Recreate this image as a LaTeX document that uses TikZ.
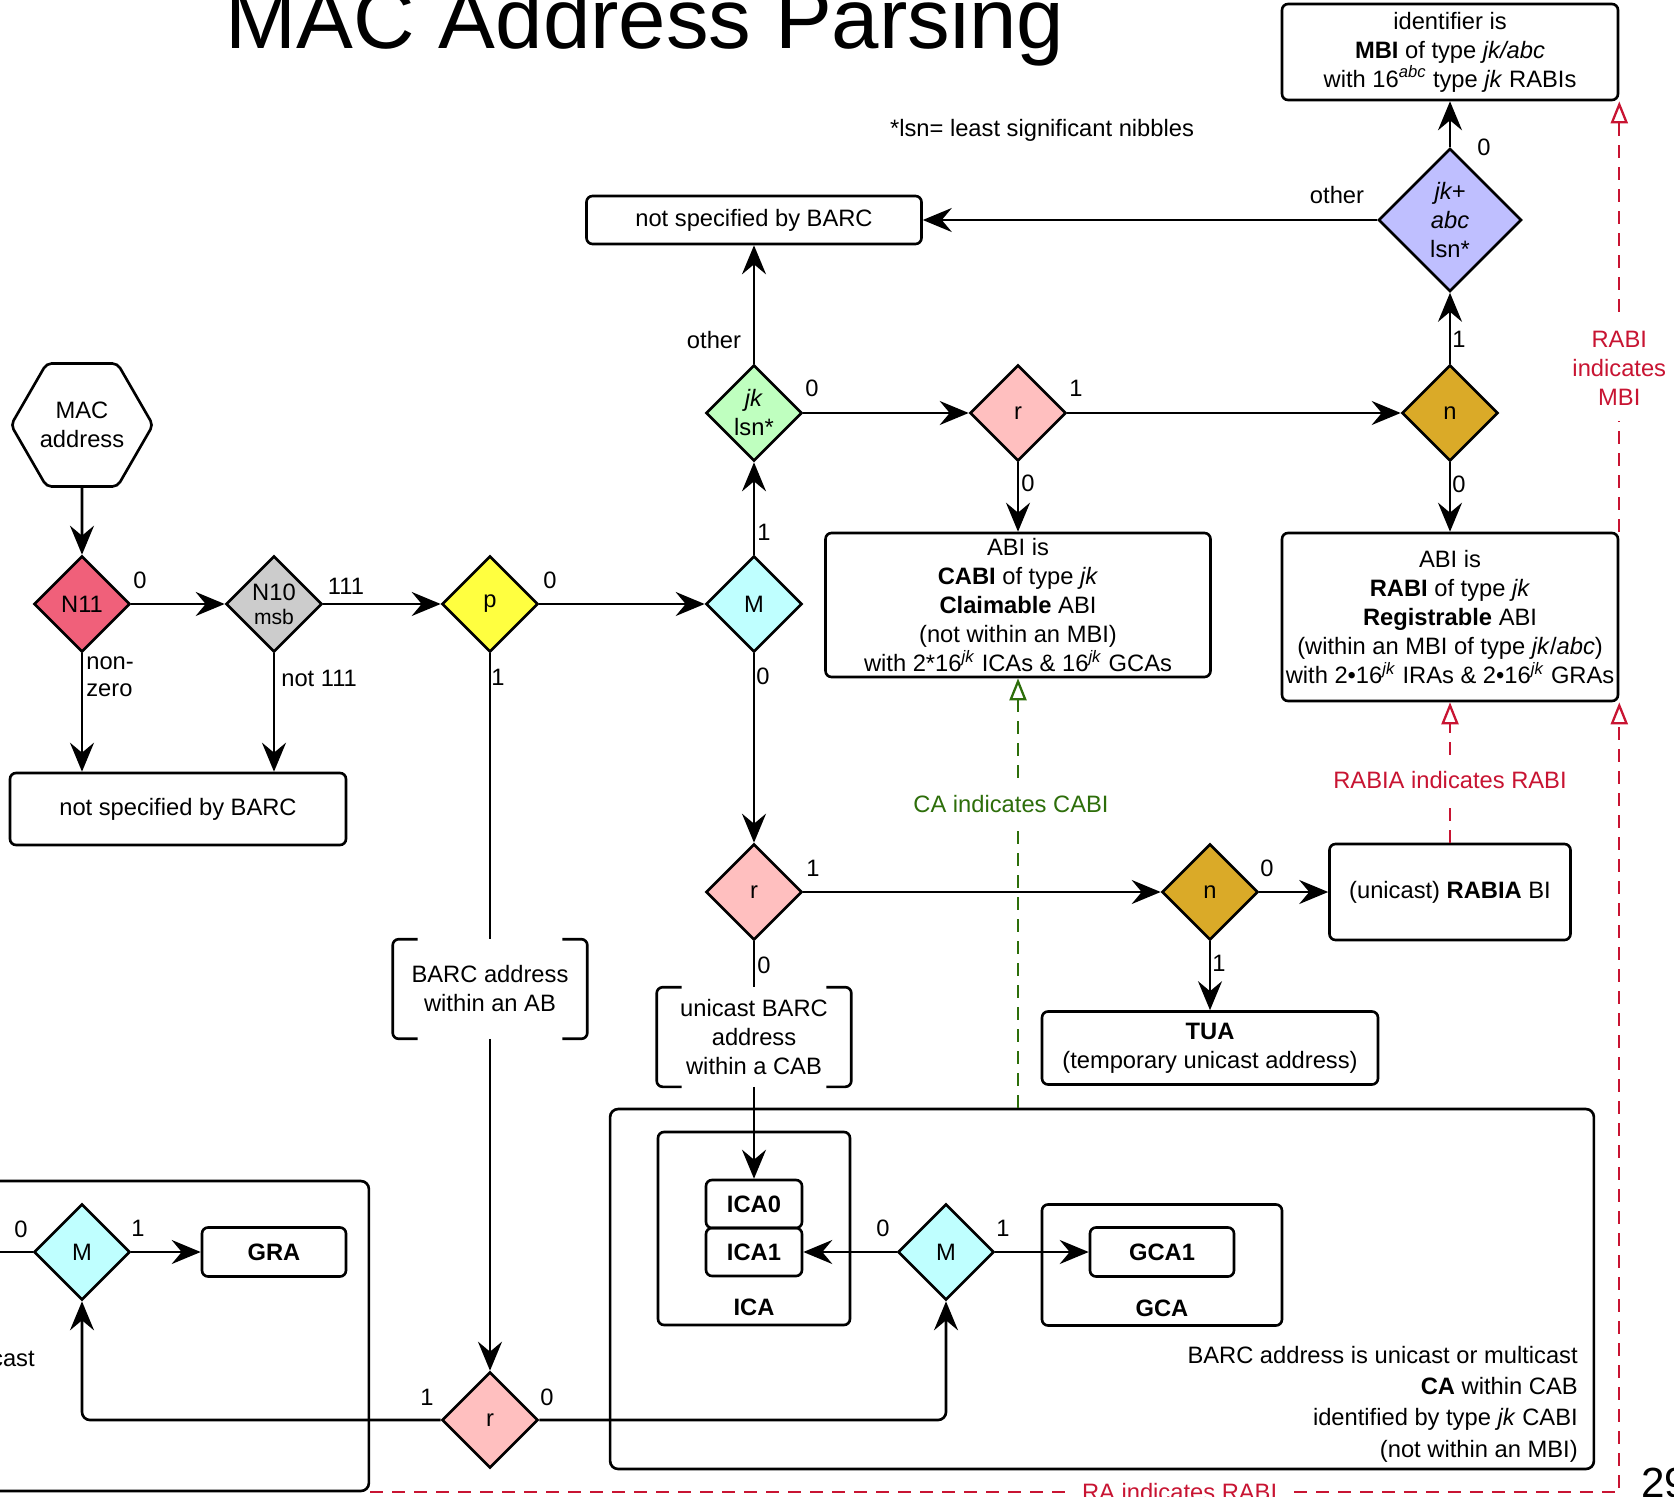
\documentclass[tikz,border=0pt]{standalone}
\usepackage{fontspec}
\setmainfont{Liberation Sans}
\usetikzlibrary{shapes.geometric,arrows.meta}

\definecolor{nelevfill}{HTML}{F0607A}
\definecolor{ntenfill}{HTML}{CCCCCC}
\definecolor{pfill}{HTML}{FFFF40}
\definecolor{mfill}{HTML}{BFFFFF}
\definecolor{jkfill}{HTML}{BFFFBF}
\definecolor{rfill}{HTML}{FFBFBF}
\definecolor{nfill}{HTML}{DAAA28}
\definecolor{abcfill}{HTML}{BFBFFF}
\definecolor{indred}{RGB}{200,20,50}
\definecolor{indgreen}{RGB}{45,110,10}

% brackets left and right of a node
\newcommand{\bracketsaround}[1]{%
  \draw[rounded corners=0.12cm] ([xshift=0.5cm]#1.north west) -- (#1.north west) -- (#1.south west) -- ([xshift=0.5cm]#1.south west);
  \draw[rounded corners=0.12cm] ([xshift=-0.5cm]#1.north east) -- (#1.north east) -- (#1.south east) -- ([xshift=-0.5cm]#1.south east);}

\begin{document}
\begin{tikzpicture}[x=0.02cm,y=-0.02cm,line width=1.5pt,font=\fontsize{13.5}{16.5}\selectfont]
\tikzstyle{dec}=[diamond, draw, inner sep=0pt, minimum width=1.92cm, minimum height=1.92cm, align=center]
\tikzstyle{box}=[rectangle, draw, rounded corners=0.12cm, inner sep=0pt, align=center]
\tikzstyle{hexa}=[regular polygon, regular polygon sides=6, draw, minimum size=2.84cm, inner sep=0pt, rounded corners=0.1cm, align=center]
\tikzstyle{lbl}=[inner sep=0pt]
\tikzstyle{arr}=[-{Stealth[length=0.58cm,width=0.48cm,inset=0.2cm]}]
\tikzstyle{ind}=[line width=1.3pt, dash pattern=on 0.26cm off 0.18cm, -{Triangle[open,length=0.44cm,width=0.34cm]}]
\tikzstyle{indtxt}=[fill=white, inner xsep=0.1cm, inner ysep=0.3cm, align=center]

\useasboundingbox (0,0) rectangle (1674,1497);
\clip (0,0) rectangle (1674,1497);

\node[lbl, anchor=base, font=\fontsize{48.5}{50}\selectfont] (title) at (645,49) {MAC Address Parsing};
\node[lbl] (lsnnote) at (1042,130) {*lsn= least significant nibbles};
\node[lbl, anchor=base west, font=\fontsize{24}{26}\selectfont] (pagenum) at (1640,1497) {29};

% containers
\node[box, rounded corners=0.16cm, minimum width=19.68cm, minimum height=6.2cm] (gracont) at (-123,1336) {};
\node[box, rounded corners=0.16cm, minimum width=19.68cm, minimum height=7.2cm] (cab) at (1102,1289) {};
\node[box, minimum width=3.84cm, minimum height=3.86cm] (ica) at (754,1228.5) {};
\node[box, minimum width=4.8cm, minimum height=2.42cm] (gca) at (1162,1265) {};

% decisions
\node[hexa] (mac) at (82,425) {MAC\\address};
\node[dec, fill=nelevfill] (nelev) at (82,604) {N11};
\node[dec, fill=ntenfill] (nten) at (274,604) {N10\\[-3pt]{\fontsize{12}{14}\selectfont msb}};
\node[dec, fill=pfill] (pbit) at (490,604) {p};
\node[dec, fill=mfill] (mtop) at (754,604) {M};
\node[dec, fill=jkfill] (jklsn) at (754,413) {\textit{jk}\\lsn*};
\node[dec, fill=rfill] (rtop) at (1018,413) {r};
\node[dec, fill=nfill] (ntop) at (1450,413) {n};
\node[dec, fill=abcfill, minimum width=2.86cm, minimum height=2.86cm] (jkabc) at (1450,220) {\textit{jk+}\\\textit{abc}\\lsn*};
\node[dec, fill=rfill] (rmid) at (754,892) {r};
\node[dec, fill=nfill] (nmid) at (1210,892) {n};
\node[dec, fill=mfill] (mcab) at (946,1252) {M};
\node[dec, fill=mfill] (mleft) at (82,1252) {M};
\node[dec, fill=rfill] (rbot) at (490,1420) {r};

% boxes
\node[box, minimum width=6.72cm, minimum height=1.92cm] (mbi) at (1450,52) {identifier is\\\textbf{MBI} of type \textit{jk/abc}\\with 16\textsuperscript{\textit{abc}} type \textit{jk} RABIs};
\node[box, minimum width=6.7cm, minimum height=0.96cm] (nsbtop) at (754,220) {not specified by BARC};
\node[box, minimum width=7.7cm, minimum height=2.88cm] (cabi) at (1018,605) {ABI is\\\textbf{CABI} of type \textit{jk}\\\textbf{Claimable} ABI\\(not within an MBI)\\with 2*16\textsuperscript{\textit{jk}} ICAs \& 16\textsuperscript{\textit{jk}} GCAs};
\node[box, minimum width=6.72cm, minimum height=3.36cm] (rabi) at (1450,617) {ABI is\\\textbf{RABI} of type \textit{jk}\\\textbf{Registrable} ABI\\(within an MBI of type \textit{jk}/\textit{abc})\\with 2•16\textsuperscript{\textit{jk}} IRAs \& 2•16\textsuperscript{\textit{jk}} GRAs};
\node[box, minimum width=6.72cm, minimum height=1.44cm] (nsbleft) at (178,809) {not specified by BARC};
\node[box, minimum width=4.82cm, minimum height=1.92cm] (rabia) at (1450,892) {(unicast) \textbf{RABIA} BI};
\node[box, minimum width=6.72cm, minimum height=1.46cm] (tua) at (1210,1048) {\textbf{TUA}\\(temporary unicast address)};
\node[lbl, minimum width=3.84cm, minimum height=1.94cm, align=center] (barcab) at (490,989) {BARC address\\within an AB};
\node[lbl, minimum width=3.84cm, minimum height=1.94cm, align=center] (ucast) at (754,1037) {unicast BARC\\address\\within a CAB};
\bracketsaround{barcab}
\bracketsaround{ucast}
\node[box, minimum width=1.92cm, minimum height=0.96cm] (icazero) at (754,1204) {\textbf{ICA0}};
\node[box, minimum width=1.92cm, minimum height=0.96cm] (icaone) at (754,1252) {\textbf{ICA1}};
\node[lbl] (icatxt) at (754,1307) {\textbf{ICA}};
\node[box, minimum width=2.88cm, minimum height=0.98cm] (gcaone) at (1162,1252) {\textbf{GCA1}};
\node[lbl] (gcatxt) at (1162,1308) {\textbf{GCA}};
\node[box, minimum width=2.88cm, minimum height=0.98cm] (gra) at (274,1252) {\textbf{GRA}};
\node[lbl, anchor=east, align=right] (cabtxt) at (1579,1404) {BARC address is unicast or multicast\\[1.3pt]\textbf{CA} within CAB\\[1.3pt]identified by type \textit{jk} CABI\\[1.3pt](not within an MBI)};
\node[lbl, anchor=east] (castfrag) at (36,1359) {cast};
\coordinate (leftin) at (-20,1252);

% connectors
\draw[arr] (mac) -- (nelev);
\draw[arr] (nelev) -- (nten);
\draw[arr] (nten) -- (pbit);
\draw[arr] (pbit) -- (mtop);
\draw[arr] (nelev) -- (nelev |- nsbleft.north);
\draw[arr] (nten) -- (nten |- nsbleft.north);
\draw[arr] (mtop) -- (jklsn);
\draw[arr] (jklsn) -- (nsbtop);
\draw[arr] (jklsn) -- (rtop);
\draw[arr] (rtop) -- (ntop);
\draw[arr] (rtop) -- (cabi);
\draw[arr] (ntop) -- (jkabc);
\draw[arr] (ntop) -- (rabi);
\draw[arr] (jkabc) -- (mbi);
\draw[arr] (jkabc) -- (nsbtop);
\draw[arr] (mtop) -- (rmid);
\draw[arr] (rmid) -- (nmid);
\draw[arr] (nmid) -- (rabia);
\draw[arr] (nmid) -- (tua);
\draw (rmid) -- (ucast);
\draw[arr] (ucast) -- (icazero);
\draw[arr] (mcab) -- (icaone);
\draw[arr] (mcab) -- (gcaone);
\draw (pbit) -- (barcab);
\draw[arr] (barcab) -- (rbot);
\draw[arr, rounded corners=0.16cm] (rbot) -| (mleft);
\draw[arr, rounded corners=0.16cm] (rbot) -| (mcab);
\draw (leftin) -- (mleft);
\draw[arr] (mleft) -- (gra);

% indications
\draw[ind, indgreen] (cabi.south |- cab.north) -- node[indtxt, pos=0.708, xshift=-0.14cm, text=indgreen] (caind) {CA indicates CABI} (cabi.south);
\draw[ind, indred] (rabia) -- node[indtxt, pos=0.448, text=indred] (rabiaind) {RABIA indicates RABI} (rabi);
\draw[ind, indred] (rabi.north east) -- node[indtxt, pos=0.379, text=indred] (rabiind) {RABI\\indicates\\MBI} (mbi.south east);
\draw[ind, indred] (gracont.south east) -- node[indtxt, pos=0.648, inner xsep=0.3cm, inner ysep=0.05cm, text=indred] (raind) {RA indicates RABI} (rabi.south east |- gracont.south east) -- (rabi.south east);

% branch labels
\node[lbl] (l-nelev) at (140,580) {0};
\node[lbl] (l-nten) at (346,586) {111};
\node[lbl] (l-pbit) at (550,580) {0};
\node[lbl, anchor=west, align=left, font=\fontsize{13.5}{15.5}\selectfont] (l-nonzero) at (85,677) {non-\\zero};
\node[lbl, anchor=west] (l-not) at (280,678) {not 111};
\node[lbl] (l-pdown) at (498,677) {1};
\node[lbl] (l-mdown) at (763,676) {0};
\node[lbl] (l-mup) at (764,532) {1};
\node[lbl] (l-jkup) at (714,340) {other};
\node[lbl] (l-jkright) at (812,388) {0};
\node[lbl] (l-rright) at (1076,388) {1};
\node[lbl] (l-rdown) at (1028,483) {0};
\node[lbl] (l-nup) at (1459,339) {1};
\node[lbl] (l-ndown) at (1459,484) {0};
\node[lbl] (l-abcup) at (1484,147) {0};
\node[lbl] (l-abcleft) at (1337,195) {other};
\node[lbl] (l-rmid1) at (813,868) {1};
\node[lbl] (l-rmid0) at (764,965) {0};
\node[lbl] (l-nmid0) at (1267,868) {0};
\node[lbl] (l-nmid1) at (1219,963) {1};
\node[lbl] (l-mcab0) at (883,1228) {0};
\node[lbl] (l-mcab1) at (1003,1228) {1};
\node[lbl] (l-rbot1) at (427,1397) {1};
\node[lbl] (l-rbot0) at (547,1397) {0};
\node[lbl] (l-mleft0) at (21,1229) {0};
\node[lbl] (l-mleft1) at (138,1228) {1};
\end{tikzpicture}
\end{document}
